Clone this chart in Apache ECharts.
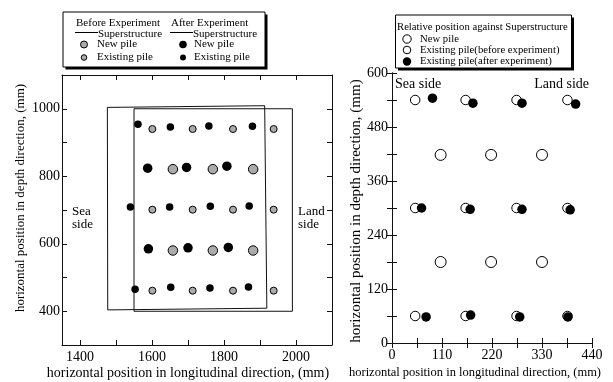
<!DOCTYPE html>
<html>
<head>
<meta charset="utf-8">
<script src="https://cdn.jsdelivr.net/npm/echarts@6/dist/echarts.min.js"></script>
<style>
  html, body { margin: 0; padding: 0; background: #fff; }
  #chart { width: 613px; height: 382px; }
</style>
</head>
<body>
<div id="chart"></div>
<script>
// ---- Left panel: absolute pile positions (mm) ----
const superBeforeX = [1550, 1990, 1990, 1550, 1550];
const superBeforeY = [400, 400, 1000, 1000, 400];
const superAfterX = [1477, 1919, 1913, 1476, 1477];
const superAfterY = [404, 409, 1009, 1004, 404];

const newPileBeforeX = [1658, 1769, 1881, 1658, 1769, 1881];
const newPileBeforeY = [821, 821, 821, 580, 580, 580];
const existPileBeforeX = [1601, 1713, 1825, 1938, 1601, 1713, 1825, 1938, 1601, 1713, 1825, 1938];
const existPileBeforeY = [940, 940, 940, 940, 701, 701, 701, 701, 461, 461, 461, 461];

const newPileAfterX = [1588, 1696, 1808, 1590, 1700, 1812];
const newPileAfterY = [824, 826, 830, 585, 588, 589];
const existPileAfterX = [1561, 1651, 1758, 1879, 1540, 1649, 1762, 1870, 1553, 1652, 1761, 1868];
const existPileAfterY = [954, 946, 949, 948, 709, 709, 711, 712, 465, 471, 469, 472];

// ---- Right panel: positions relative to the superstructure (mm) ----
const relNewX = [107, 218, 330, 107, 218, 330];
const relNewY = [180, 180, 180, 418, 418, 418];
const relExistBeforeX = [51, 162, 274, 386, 51, 162, 274, 386, 51, 162, 274, 386];
const relExistBeforeY = [60, 60, 60, 60, 300, 300, 300, 300, 540, 540, 540, 540];
const relExistAfterX = [89, 178, 286, 404, 65, 172, 286, 392, 75, 173, 281, 387];
const relExistAfterY = [544, 533, 533, 531, 300, 297, 297, 296, 58, 62, 58, 58];

// ---- Axis ticks and labels ----
const leftXTicks = [1400, 1500, 1600, 1700, 1800, 1900, 2000, 2100];
const leftXLabels = [1400, 1600, 1800, 2000];
const leftYLabels = [400, 600, 800, 1000];
const rightXLabels = [0, 110, 220, 330, 440];
const rightYLabels = [0, 120, 240, 360, 480, 600];

const pairs = (xs, ys) => xs.map((x, i) => [x, ys[i]]);

const FONT = '"Liberation Serif", "Times New Roman", serif';
const INK = '#111';

function frameAxis(extra) {
  return Object.assign({
    type: 'value',
    axisLine: { show: true, lineStyle: { color: INK, width: 1 } },
    axisTick: { show: true, inside: true, length: 5, lineStyle: { color: INK, width: 1 } },
    axisLabel: { show: false },
    splitLine: { show: false }
  }, extra);
}

const labelStyle = { color: '#000', fontFamily: FONT, fontSize: 14 };

const option = {
  animation: false,
  backgroundColor: '#fff',
  grid: [
    { left: 62, top: 75, width: 270, height: 270 },
    { left: 392, top: 73, width: 200, height: 270 }
  ],
  xAxis: [
    frameAxis({ gridIndex: 0, position: 'bottom', min: 1350, max: 2100,
      axisTick: { show: true, inside: true, length: 5, customValues: leftXTicks, lineStyle: { color: INK } },
      axisLabel: Object.assign({ show: true, margin: 5, customValues: leftXLabels,
        formatter: v => String(v) }, labelStyle) }),
    frameAxis({ gridIndex: 0, position: 'top', min: 1350, max: 2100,
      axisTick: { show: true, inside: true, length: 5, customValues: leftXTicks, lineStyle: { color: INK } } }),
    frameAxis({ gridIndex: 1, position: 'bottom', min: 0, max: 440, interval: 55,
      axisLabel: Object.assign({ show: true, margin: 5,
        formatter: v => rightXLabels.includes(v) ? String(v) : '' }, labelStyle) }),
    frameAxis({ gridIndex: 1, position: 'top', min: 0, max: 440, interval: 55 })
  ],
  yAxis: [
    frameAxis({ gridIndex: 0, position: 'left', min: 300, max: 1100, interval: 100,
      axisLabel: Object.assign({ show: true, margin: 2,
        formatter: v => leftYLabels.includes(v) ? String(v) : '' }, labelStyle) }),
    frameAxis({ gridIndex: 0, position: 'right', min: 300, max: 1100, interval: 100 }),
    frameAxis({ gridIndex: 1, position: 'left', min: 0, max: 600, interval: 60,
      axisLabel: Object.assign({ show: true, margin: 4,
        formatter: v => rightYLabels.includes(v) ? String(v) : '' }, labelStyle) }),
    frameAxis({ gridIndex: 1, position: 'right', min: 0, max: 600, interval: 60 })
  ],
  series: [
    { type: 'line', xAxisIndex: 0, yAxisIndex: 0, data: pairs(superBeforeX, superBeforeY),
      symbol: 'none', lineStyle: { color: INK, width: 1 }, z: 2 },
    { type: 'line', xAxisIndex: 0, yAxisIndex: 0, data: pairs(superAfterX, superAfterY),
      symbol: 'none', lineStyle: { color: INK, width: 1 }, z: 2 },
    { type: 'scatter', xAxisIndex: 0, yAxisIndex: 0, data: pairs(newPileBeforeX, newPileBeforeY),
      symbolSize: 9.5, itemStyle: { color: '#aaaaaa', borderColor: '#000', borderWidth: 1, opacity: 1 }, z: 3 },
    { type: 'scatter', xAxisIndex: 0, yAxisIndex: 0, data: pairs(existPileBeforeX, existPileBeforeY),
      symbolSize: 7, itemStyle: { color: '#aaaaaa', borderColor: '#000', borderWidth: 1, opacity: 1 }, z: 3 },
    { type: 'scatter', xAxisIndex: 0, yAxisIndex: 0, data: pairs(newPileAfterX, newPileAfterY),
      symbolSize: 9.5, itemStyle: { color: '#000', opacity: 1 }, z: 4 },
    { type: 'scatter', xAxisIndex: 0, yAxisIndex: 0, data: pairs(existPileAfterX, existPileAfterY),
      symbolSize: 7.5, itemStyle: { color: '#000', opacity: 1 }, z: 4 },
    { type: 'scatter', xAxisIndex: 2, yAxisIndex: 2, data: pairs(relNewX, relNewY),
      symbolSize: 11, itemStyle: { color: '#fff', borderColor: '#000', borderWidth: 1, opacity: 1 }, z: 3 },
    { type: 'scatter', xAxisIndex: 2, yAxisIndex: 2, data: pairs(relExistBeforeX, relExistBeforeY),
      symbolSize: 9.5, itemStyle: { color: '#fff', borderColor: '#000', borderWidth: 1, opacity: 1 }, z: 3 },
    { type: 'scatter', xAxisIndex: 2, yAxisIndex: 2, data: pairs(relExistAfterX, relExistAfterY),
      symbolSize: 9.5, itemStyle: { color: '#000', opacity: 1 }, z: 4 }
  ],
  graphic: [
    // axis titles
    { type: 'text', x: 188, y: 373, style: { text: 'horizontal position in longitudinal direction, (mm)',
      font: '14px ' + FONT, fill: '#000', align: 'center', verticalAlign: 'middle' } },
    { type: 'text', x: 475, y: 373, style: { text: 'horizontal position in longitudinal direction, (mm)',
      font: '12.5px ' + FONT, fill: '#000', align: 'center', verticalAlign: 'middle' } },
    { type: 'text', x: 21, y: 198, rotation: Math.PI / 2, style: { text: 'horizontal position in depth direction, (mm)',
      font: '13px ' + FONT, fill: '#000', align: 'center', verticalAlign: 'middle' } },
    { type: 'text', x: 356, y: 211, rotation: Math.PI / 2, style: { text: 'horizontal position in depth direction, (mm)',
      font: '15px ' + FONT, fill: '#000', align: 'center', verticalAlign: 'middle' } },

    // side annotations
    { type: 'text', x: 72, y: 212, style: { text: 'Sea', font: '13px ' + FONT, fill: '#000', align: 'left', verticalAlign: 'middle' } },
    { type: 'text', x: 72, y: 225, style: { text: 'side', font: '13px ' + FONT, fill: '#000', align: 'left', verticalAlign: 'middle' } },
    { type: 'text', x: 298, y: 212, style: { text: 'Land', font: '13px ' + FONT, fill: '#000', align: 'left', verticalAlign: 'middle' } },
    { type: 'text', x: 298, y: 225, style: { text: 'side', font: '13px ' + FONT, fill: '#000', align: 'left', verticalAlign: 'middle' } },
    { type: 'text', x: 395, y: 84, style: { text: 'Sea side', font: '14px ' + FONT, fill: '#000', align: 'left', verticalAlign: 'middle' } },
    { type: 'text', x: 589, y: 84, style: { text: 'Land side', font: '14px ' + FONT, fill: '#000', align: 'right', verticalAlign: 'middle' } },

    // left key box
    { type: 'rect', shape: { x: 65.5, y: 14.5, width: 202, height: 55 }, style: { fill: '#000' }, z: 10 },
    { type: 'rect', shape: { x: 63, y: 12, width: 202, height: 55 }, style: { fill: '#fff', stroke: '#000', lineWidth: 1 }, z: 11 },
    { type: 'text', x: 76, y: 23, z: 12, style: { text: 'Before Experiment', font: '11px ' + FONT, fill: '#000', verticalAlign: 'middle' } },
    { type: 'text', x: 171, y: 23, z: 12, style: { text: 'After Experiment', font: '11px ' + FONT, fill: '#000', verticalAlign: 'middle' } },
    { type: 'line', z: 12, shape: { x1: 75, y1: 32.5, x2: 98, y2: 32.5 }, style: { stroke: '#000', lineWidth: 1 } },
    { type: 'line', z: 12, shape: { x1: 170, y1: 32.5, x2: 193, y2: 32.5 }, style: { stroke: '#000', lineWidth: 1 } },
    { type: 'text', x: 98, y: 34, z: 12, style: { text: 'Superstructure', font: '11px ' + FONT, fill: '#000', verticalAlign: 'middle' } },
    { type: 'text', x: 193, y: 34, z: 12, style: { text: 'Superstructure', font: '11px ' + FONT, fill: '#000', verticalAlign: 'middle' } },
    { type: 'circle', z: 12, shape: { cx: 84, cy: 44.5, r: 3.5 }, style: { fill: '#aaaaaa', stroke: '#000', lineWidth: 1 } },
    { type: 'circle', z: 12, shape: { cx: 84, cy: 57.5, r: 2.8 }, style: { fill: '#aaaaaa', stroke: '#000', lineWidth: 1 } },
    { type: 'circle', z: 12, shape: { cx: 183, cy: 44.5, r: 3.8 }, style: { fill: '#000' } },
    { type: 'circle', z: 12, shape: { cx: 183, cy: 57.5, r: 3 }, style: { fill: '#000' } },
    { type: 'text', x: 97, y: 44.5, z: 12, style: { text: 'New pile', font: '11px ' + FONT, fill: '#000', verticalAlign: 'middle' } },
    { type: 'text', x: 97, y: 57.5, z: 12, style: { text: 'Existing pile', font: '11px ' + FONT, fill: '#000', verticalAlign: 'middle' } },
    { type: 'text', x: 194, y: 44.5, z: 12, style: { text: 'New pile', font: '11px ' + FONT, fill: '#000', verticalAlign: 'middle' } },
    { type: 'text', x: 194, y: 57.5, z: 12, style: { text: 'Existing pile', font: '11px ' + FONT, fill: '#000', verticalAlign: 'middle' } },

    // right key box
    { type: 'rect', shape: { x: 398, y: 17.5, width: 176, height: 53 }, style: { fill: '#000' }, z: 10 },
    { type: 'rect', shape: { x: 395.5, y: 15, width: 176, height: 53 }, style: { fill: '#fff', stroke: '#000', lineWidth: 1 }, z: 11 },
    { type: 'text', x: 397, y: 27, z: 12, style: { text: 'Relative position against Superstructure', font: '10.7px ' + FONT, fill: '#000', verticalAlign: 'middle' } },
    { type: 'circle', z: 12, shape: { cx: 407, cy: 39, r: 4.2 }, style: { fill: '#fff', stroke: '#000', lineWidth: 1 } },
    { type: 'circle', z: 12, shape: { cx: 407, cy: 50, r: 3.8 }, style: { fill: '#fff', stroke: '#000', lineWidth: 1 } },
    { type: 'circle', z: 12, shape: { cx: 407, cy: 61.5, r: 4.2 }, style: { fill: '#000' } },
    { type: 'text', x: 420, y: 39, z: 12, style: { text: 'New pile', font: '10.7px ' + FONT, fill: '#000', verticalAlign: 'middle' } },
    { type: 'text', x: 420, y: 50, z: 12, style: { text: 'Existing pile(before experiment)', font: '10.7px ' + FONT, fill: '#000', verticalAlign: 'middle' } },
    { type: 'text', x: 420, y: 61.5, z: 12, style: { text: 'Existing pile(after experiment)', font: '10.7px ' + FONT, fill: '#000', verticalAlign: 'middle' } }
  ]
};

const chart = echarts.init(document.getElementById('chart'), null, { renderer: 'canvas' });
chart.setOption(option);
</script>
</body>
</html>
